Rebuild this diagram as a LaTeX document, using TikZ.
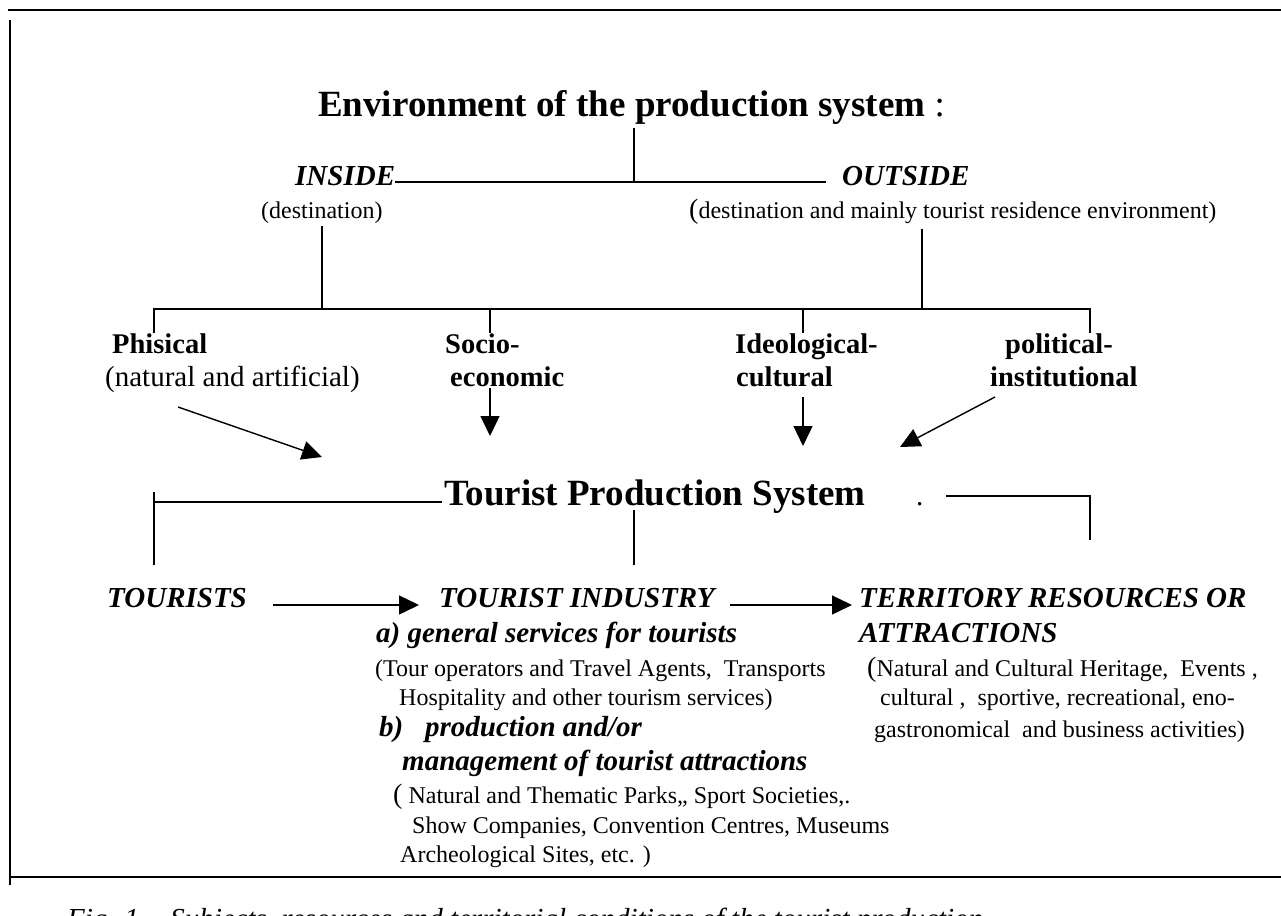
\documentclass[tikz,border=0pt]{standalone}
\usepackage{fontspec}
\setmainfont{Liberation Serif}
\usetikzlibrary{arrows.meta}
\begin{document}
\begin{tikzpicture}[x=1pt,y=-1pt,
  txt/.style={inner sep=0pt, anchor=base west},
  ttl/.style={txt, font=\fontsize{37}{44}\selectfont\bfseries},
  bld/.style={txt, font=\fontsize{28.5}{33}\selectfont\bfseries},
  bit/.style={txt, font=\fontsize{29}{34}\selectfont\bfseries\itshape},
  reg/.style={txt, font=\fontsize{24}{29}\selectfont},
  regl/.style={txt, font=\fontsize{29}{34}\selectfont},
  captxt/.style={txt, font=\fontsize{29}{35}\selectfont\itshape},
  ln/.style={line width=1.4pt},
  frame/.style={line width=2pt},
  arr/.style={line width=1.4pt, -{Triangle[length=20pt,width=19pt]}}
]
\useasboundingbox (0,0) rectangle (1281,915);

% frame
\coordinate (ftl) at (8,10);
\coordinate (ftr) at (1281,10);
\coordinate (flt) at (10,20);
\coordinate (flb) at (10,885);
\coordinate (fbl) at (10,877);
\coordinate (fbr) at (1281,877);
\draw[frame] (ftl) -- (ftr);
\draw[ln] (flt) -- (flb);
\draw[frame] (fbl) -- (fbr);

% title level
\node[ttl] (title) at (318,117) {Environment of the production system \mdseries:};
\node[bit] (inside) at (295,185) {INSIDE};
\node[bit] (outside) at (842,185) {OUTSIDE};
\node[reg] (dest1) at (261,218) {(destination)};
\node[reg] (dest2) at (689,218) {{\fontsize{28}{29}\selectfont(}destination and mainly tourist residence environment)};

\coordinate (t1) at (634,128);
\coordinate (t2) at (634,182);
\coordinate (io1) at (395,182);
\coordinate (io2) at (826,182);
\draw[ln] (t1) -- (t2);
\draw[ln] (io1) -- (io2);

\coordinate (d1a) at (322,226);
\coordinate (d1b) at (322,309);
\coordinate (d2a) at (922,229);
\coordinate (d2b) at (922,309);
\draw[ln] (d1a) -- (d1b);
\draw[ln] (d2a) -- (d2b);

% bus
\coordinate (b1) at (154,333);
\coordinate (b1t) at (154,309);
\coordinate (b2) at (490,333);
\coordinate (b2t) at (490,309);
\coordinate (b3) at (803,333);
\coordinate (b3t) at (803,309);
\coordinate (b4) at (1090,333);
\coordinate (b4t) at (1090,309);
\draw[ln] (b1) -- (b1t) -- (b4t) -- (b4);
\draw[ln] (b2t) -- (b2);
\draw[ln] (b3t) -- (b3);

% four environments
\node[bld] (phis) at (112,353) {Phisical};
\node[regl] (phis2) at (105,386) {(natural and artificial)};
\node[bld] (socio) at (445,353) {Socio-};
\node[bld] (socio2) at (450,386) {economic};
\node[bld] (ideo) at (735,353) {Ideological-};
\node[bld] (ideo2) at (736,386) {cultural};
\node[bld] (poli) at (1005,353) {political-};
\node[bld] (poli2) at (990,386) {institutional};

\coordinate (a1s) at (178,407);
\coordinate (a1e) at (322,457);
\coordinate (a2s) at (490,388);
\coordinate (a2e) at (490,436);
\coordinate (a3s) at (803,397);
\coordinate (a3e) at (803,446);
\coordinate (a4s) at (995,397);
\coordinate (a4e) at (900,447);
\draw[arr] (a1s) -- (a1e);
\draw[arr] (a2s) -- (a2e);
\draw[arr] (a3s) -- (a3e);
\draw[arr] (a4s) -- (a4e);

% Tourist production system
\node[ttl, font=\fontsize{37}{44}\selectfont\bfseries] (tps) at (444,505) {Tourist Production System};
\node[regl] (dot) at (916,505) {.};
\coordinate (l1) at (154,492);
\coordinate (l2) at (154,565);
\coordinate (l3) at (154,502);
\coordinate (l4) at (442,502);
\draw[ln] (l1) -- (l2);
\draw[ln] (l3) -- (l4);
\coordinate (m1) at (634,510);
\coordinate (m2) at (634,565);
\draw[ln] (m1) -- (m2);
\coordinate (r1) at (946,496);
\coordinate (r2) at (1090,496);
\coordinate (r3) at (1090,540);
\draw[ln] (r1) -- (r2) -- (r3);

% bottom row
\node[bit] (tourists) at (107,607) {TOURISTS};
\node[bit] (industry) at (439,607) {TOURIST INDUSTRY};
\node[bit] (territory) at (859,607) {TERRITORY RESOURCES OR};
\node[bit] (attr) at (859,642) {ATTRACTIONS};
\coordinate (h1s) at (273,605);
\coordinate (h1e) at (419,605);
\coordinate (h2s) at (730,605);
\coordinate (h2e) at (852,605);
\draw[arr] (h1s) -- (h1e);
\draw[arr] (h2s) -- (h2e);

\node[bit] (ga) at (376,642) {a) general services for tourists};
\node[reg] (ga1) at (375,676) {(Tour operators and Travel Agents,\ \ Transports};
\node[reg] (ga2) at (399,705) {Hospitality and other tourism services)};
\node[bit] (gb) at (379,736) {b)\ \ \ production and/or};
\node[bit] (gb2) at (402,770) {management of tourist attractions};
\node[reg] (gb3) at (393,803) {{\fontsize{28}{29}\selectfont(} Natural and Thematic Parks,, Sport Societies,.};
\node[reg] (gb4) at (412,833) {Show Companies, Convention Centres, Museums};
\node[reg] (gb5) at (400,862) {Archeological Sites, etc. )};

\node[reg] (tr1) at (867,676) {{\fontsize{28}{29}\selectfont(}Natural and Cultural Heritage,\ \ Events ,};
\node[reg] (tr2) at (880,705) {cultural ,\ \ sportive, recreational, eno-};
\node[reg] (tr3) at (874,737) {gastronomical\ \ and business activities)};

% caption (cut by the page edge, as in the reference)
\node[captxt] (caption) at (67,928) {Fig. 1 -\ \ Subjects, resources and territorial conditions of the tourist production};
\end{tikzpicture}
\end{document}
